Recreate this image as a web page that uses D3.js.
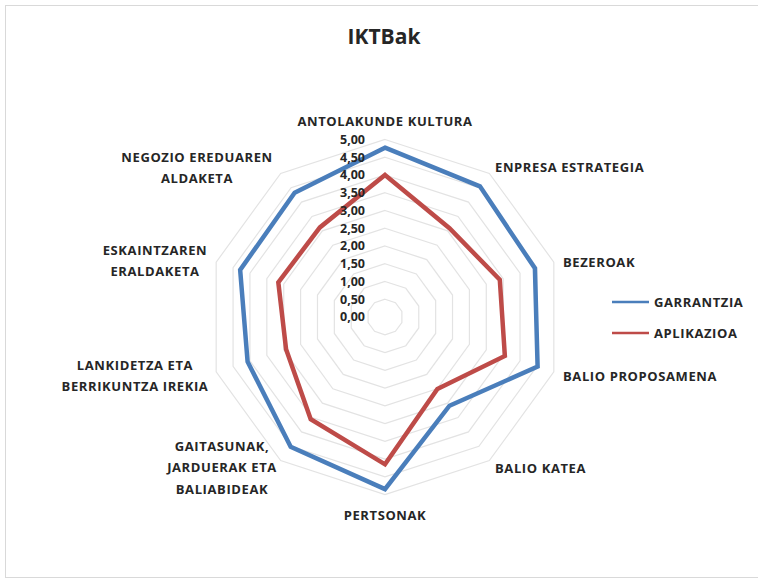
<!DOCTYPE html>
<html>
<head>
<meta charset="utf-8">
<script src="https://cdn.jsdelivr.net/npm/d3@7"></script>
<style>
  body { margin: 0; background: #fff; }
  text { font-family: "Open Sans", "Noto Sans", sans-serif; fill: #262626; }
</style>
</head>
<body>
<svg id="chart"></svg>
<script>
const width = 758;
const height = 580;

const axes = [
  ["ANTOLAKUNDE KULTURA"],
  ["ENPRESA ESTRATEGIA"],
  ["BEZEROAK"],
  ["BALIO PROPOSAMENA"],
  ["BALIO KATEA"],
  ["PERTSONAK"],
  ["GAITASUNAK,", "JARDUERAK ETA", "BALIABIDEAK"],
  ["LANKIDETZA ETA", "BERRIKUNTZA IREKIA"],
  ["ESKAINTZAREN", "ERALDAKETA"],
  ["NEGOZIO EREDUAREN", "ALDAKETA"]
];

const garrantzia = [4.77, 4.55, 4.44, 4.52, 3.09, 4.85, 4.52, 4.07, 4.29, 4.33];
const aplikazioa = [4.00, 3.09, 3.40, 3.55, 2.51, 4.15, 3.56, 2.93, 3.16, 3.12];

const ticks = [0, 0.5, 1, 1.5, 2, 2.5, 3, 3.5, 4, 4.5, 5];

const series = [
  { name: "GARRANTZIA", values: garrantzia, color: "#4a7ebb" },
  { name: "APLIKAZIOA", values: aplikazioa, color: "#be4b48" }
];

const cx = 385, cy = 317;
const rMax = 177.5;

const svg = d3.select("#chart")
  .attr("width", width)
  .attr("height", height);

// chart area border
svg.append("rect")
  .attr("x", 5.5).attr("y", 5.5)
  .attr("width", 770).attr("height", 572)
  .attr("fill", "#fff")
  .attr("stroke", "#d9d9d9");

svg.append("text")
  .attr("x", 384).attr("y", 44)
  .attr("text-anchor", "middle")
  .style("font-size", "21px")
  .style("font-weight", "bold")
  .text("IKTBak");

const g = svg.append("g")
  .attr("transform", `translate(${cx},${cy})`);

const r = d3.scaleLinear().domain([0, 5]).range([0, rMax]);
const angle = d3.scaleLinear().domain([0, axes.length]).range([0, 2 * Math.PI]);

const radial = d3.lineRadial()
  .angle((d, i) => angle(i))
  .radius(d => r(d))
  .curve(d3.curveLinearClosed);

// grid rings
g.selectAll(".ring")
  .data(ticks.filter(t => t > 0))
  .enter()
  .append("path")
  .attr("class", "ring")
  .attr("d", t => radial(axes.map(() => t)))
  .attr("fill", "none")
  .attr("stroke", "#e3e3e3")
  .attr("stroke-width", 1.2);

// series
g.selectAll(".series")
  .data(series)
  .enter()
  .append("path")
  .attr("class", "series")
  .attr("d", d => radial(d.values))
  .attr("fill", "none")
  .attr("stroke", d => d.color)
  .attr("stroke-width", 4.5)
  .attr("stroke-linejoin", "miter");

// tick labels
g.selectAll(".tick")
  .data(ticks)
  .enter()
  .append("text")
  .attr("class", "tick")
  .attr("x", -20)
  .attr("y", t => -r(t))
  .attr("dy", "0.35em")
  .attr("text-anchor", "end")
  .style("font-size", "12.5px")
  .style("font-weight", "bold")
  .text(t => d3.format(".2f")(t).replace(".", ","));

// axis labels
const labelPos = [
  { x: 0, y: -196, anchor: "middle" },
  { x: 110, y: -150, anchor: "start" },
  { x: 178, y: -55, anchor: "start" },
  { x: 178, y: 59, anchor: "start" },
  { x: 110, y: 151, anchor: "start" },
  { x: 0, y: 198, anchor: "middle" },
  { x: -163, y: 129, anchor: "middle" },
  { x: -250, y: 48, anchor: "middle" },
  { x: -230, y: -67, anchor: "middle" },
  { x: -188, y: -160, anchor: "middle" }
];

axes.forEach((lines, i) => {
  const p = labelPos[i];
  const t = g.append("text")
    .attr("text-anchor", p.anchor)
    .style("font-size", "13px")
    .style("letter-spacing", "0.6px")
    .style("font-weight", "bold");
  lines.forEach((l, j) => {
    t.append("tspan")
      .attr("x", p.x)
      .attr("y", p.y + j * 21.5)
      .attr("dy", "0.35em")
      .text(l);
  });
});

// legend
const legend = svg.append("g")
  .attr("transform", "translate(612,302)");

const item = legend.selectAll(".item")
  .data(series)
  .enter()
  .append("g")
  .attr("transform", (d, i) => `translate(0,${i * 31})`);

item.append("line")
  .attr("x1", 0).attr("x2", 37)
  .attr("stroke", d => d.color)
  .attr("stroke-width", 2.5);

item.append("text")
  .attr("x", 42)
  .attr("dy", "0.35em")
  .style("font-size", "13px")
  .style("letter-spacing", "0.6px")
  .style("font-weight", "bold")
  .text(d => d.name);
</script>
</body>
</html>
